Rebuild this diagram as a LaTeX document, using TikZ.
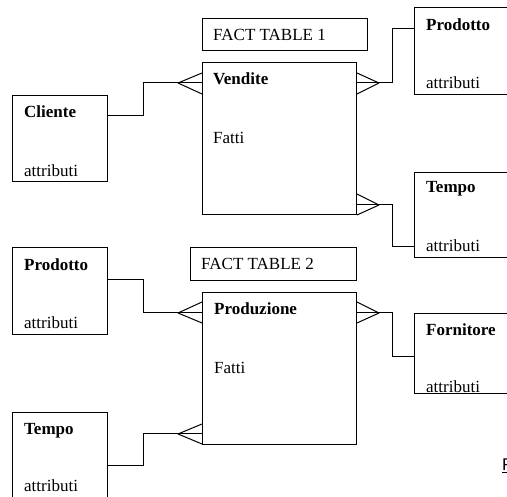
\documentclass[tikz,border=0pt]{standalone}
\usepackage{fontspec}
\setmainfont{Liberation Serif}
\newfontfamily\notefont{Liberation Sans}
\usetikzlibrary{calc}
\begin{document}
\begin{tikzpicture}[x=1pt,y=-1pt,
  entity/.style={draw, line width=1pt, inner sep=0pt, anchor=north west},
  conn/.style={draw, line width=1pt},
  title/.style={font=\fontsize{17}{20}\selectfont\bfseries, anchor=base west, inner sep=0pt},
  plain/.style={font=\fontsize{17}{20}\selectfont, anchor=base west, inner sep=0pt}]
\useasboundingbox (0,0) rectangle (507,497);
\clip (0,0) rectangle (507,497);

% ---------- star schema 1: Vendite ----------
\node[entity, minimum width=165pt, minimum height=32pt] (ft1) at (202,18) {};
\node[plain] (ft1t) at (213,41) {FACT TABLE 1};

\node[entity, minimum width=154pt, minimum height=152pt] (vendite) at (202,62) {};
\node[title] (venditeT) at (213,85) {Vendite};
\node[plain] (venditeF) at (213,144) {Fatti};

\node[entity, minimum width=95pt, minimum height=86pt] (cliente) at (12,95) {};
\node[title] (clienteT) at (24,118) {Cliente};
\node[plain] (clienteA) at (24,177) {attributi};

\node[entity, minimum width=120pt, minimum height=87pt] (prod1) at (414,7) {};
\node[title] (prod1T) at (426,31) {Prodotto};
\node[plain] (prod1A) at (426,89) {attributi};

\node[entity, minimum width=120pt, minimum height=85pt] (tempo1) at (414,172) {};
\node[title] (tempo1T) at (426,193) {Tempo};
\node[plain] (tempo1A) at (426,252) {attributi};

% crow's feet of Vendite
\coordinate (vL) at ($(vendite.north west)+(-24,21)$);
\foreach \d in {11,21,32} \draw[conn] (vL) -- ($(vendite.north west)+(0,\d)$);
\draw[conn] (vL) -- ++(-35,0) |- ($(cliente.north east)+(0,21)$);

\coordinate (vR1) at ($(vendite.north east)+(22,21)$);
\foreach \d in {11,21,32} \draw[conn] (vR1) -- ($(vendite.north east)+(0,\d)$);
\draw[conn] (vR1) -- ++(13,0) |- ($(prod1.north west)+(0,22)$);

\coordinate (vR2) at ($(vendite.south east)+(22,-10)$);
\foreach \d in {-21,-10,0} \draw[conn] (vR2) -- ($(vendite.south east)+(0,\d)$);
\draw[conn] (vR2) -- ++(13,0) |- ($(tempo1.north west)+(0,75)$);

% ---------- star schema 2: Produzione ----------
\node[entity, minimum width=166pt, minimum height=33pt] (ft2) at (190,247) {};
\node[plain] (ft2t) at (201,270) {FACT TABLE 2};

\node[entity, minimum width=154pt, minimum height=152pt] (produz) at (202,292) {};
\node[title] (produzT) at (214,315) {Produzione};
\node[plain] (produzF) at (214,374) {Fatti};

\node[entity, minimum width=95pt, minimum height=87pt] (prod2) at (12,247) {};
\node[title] (prod2T) at (24,271) {Prodotto};
\node[plain] (prod2A) at (24,329) {attributi};

\node[entity, minimum width=95pt, minimum height=100pt] (tempo2) at (12,412) {};
\node[title] (tempo2T) at (24,435) {Tempo};
\node[plain] (tempo2A) at (24,492) {attributi};

\node[entity, minimum width=120pt, minimum height=80pt] (forn) at (414,313) {};
\node[title] (fornT) at (426,336) {Fornitore};
\node[plain] (fornA) at (426,393) {attributi};

% crow's feet of Produzione
\coordinate (pL1) at ($(produz.north west)+(-24,21)$);
\foreach \d in {10,21,31} \draw[conn] (pL1) -- ($(produz.north west)+(0,\d)$);
\draw[conn] (pL1) -- ++(-35,0) |- ($(prod2.north east)+(0,33)$);

\coordinate (pL2) at ($(produz.south west)+(-24,-11)$);
\foreach \d in {-21,-11,-1} \draw[conn] (pL2) -- ($(produz.south west)+(0,\d)$);
\draw[conn] (pL2) -- ++(-35,0) |- ($(tempo2.north east)+(0,54)$);

\coordinate (pR) at ($(produz.north east)+(22,21)$);
\foreach \d in {10,21,31} \draw[conn] (pR) -- ($(produz.north east)+(0,\d)$);
\draw[conn] (pR) -- ++(13,0) |- ($(forn.north west)+(0,44)$);

% note at the page edge
\node[anchor=base west, inner sep=0pt, font=\notefont\fontsize{17}{20}\selectfont] (note) at (502,471) {\underline{F}};
\end{tikzpicture}
\end{document}
